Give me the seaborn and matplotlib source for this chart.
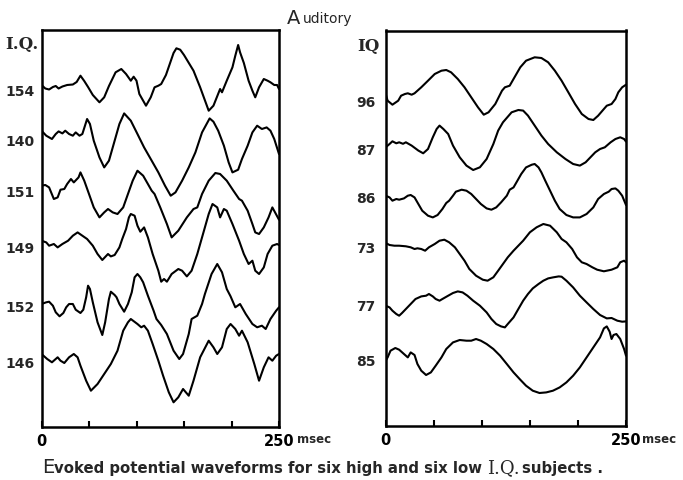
import numpy as np
import pandas as pd
import matplotlib
matplotlib.use("Agg")
import matplotlib.pyplot as plt
import matplotlib.transforms as mtransforms
import seaborn as sns

# ---------------- data (time in msec, amplitude in arbitrary units, up = positive)
iq_high = [154, 140, 151, 149, 152, 146]
iq_low = [96, 87, 86, 73, 77, 85]
time_ticks = [0, 50, 100, 150, 200, 250]
time_tick_labels = ["0", "", "", "", "", "250"]

t154 = [0, 4, 8, 12, 15, 18, 22, 27, 33, 37, 41, 45, 49, 54, 61, 66, 71, 78, 84, 89, 94, 97, 100, 103, 110, 115, 119, 123, 126, 131, 135, 139, 142, 146, 150, 160, 167, 176, 181, 188, 190, 195, 201, 204, 207, 209, 213, 218, 222, 225, 229, 234, 238, 241, 245, 248, 250]
a154 = [0, -3.5, -4.5, -2, -1, -3.5, -1.5, 0, 0.5, 3, 9.3, 4, -2, -10, -17.3, -12.3, -1, 12.7, 16, 11, 4.3, 8.3, 4.3, -9, -20.7, -12.3, -2.3, -0.7, 1, 10, 21, 32, 36.7, 35.3, 30, 14.3, -2.3, -25.7, -20.7, -4, -7.3, 4.3, 17.7, 29.3, 40, 32.7, 22, 4.3, -5.7, -12.3, -2.3, 6, 4.3, 2.7, 0, 0, -4]

t140 = [0, 5, 11, 15, 18, 22, 25, 29, 33, 36, 40, 43, 48, 51, 55, 61, 66, 71, 77, 82, 87, 94, 101, 108, 116, 123, 130, 136, 141, 148, 155, 162, 169, 177, 181, 186, 192, 197, 201, 207, 211, 217, 222, 227, 232, 237, 241, 245, 250]
a140 = [0, -5, -8.3, -3.3, -0.7, -2.7, 0, -3.3, -5, -1.7, -5, -3.3, 11.7, 6.7, -10, -26.7, -36.7, -30, -10, 6.7, 17.3, 10, -3.3, -16.7, -30, -41.7, -55, -65, -61.7, -50, -36.7, -21.7, -1.7, 12.3, 9, 0, -15, -31.7, -41.7, -39, -28.3, -15, -1.7, 5, 1.7, 3.3, 0, -8.3, -23.3]

t151 = [0, 4, 8, 13, 17, 20, 24, 27, 31, 34, 39, 41, 45, 50, 55, 61, 66, 70, 75, 80, 86, 91, 96, 101, 107, 112, 116, 119, 125, 132, 137, 144, 153, 160, 164, 169, 176, 183, 188, 195, 202, 208, 211, 217, 222, 225, 229, 234, 239, 243, 250]
a151 = [0, 0.7, -1.7, -13.3, -11.7, -4, -3.3, 1.7, 6.7, 3.3, 8.3, 13.3, 5, -8.3, -21.7, -31.7, -26.7, -23.3, -26.7, -28.3, -21.7, -8.3, 5, 15, 10, 1.7, -5, -8.3, -21.7, -38.3, -51.7, -45, -31.7, -23.3, -21.7, -8.3, 5, 12.7, 11.7, 5, -5, -13.3, -15, -25, -38.3, -46.7, -48.3, -41.7, -31.7, -21.7, -34]

t149 = [0, 5, 8, 13, 17, 22, 28, 33, 38, 43, 48, 54, 59, 64, 70, 73, 77, 82, 85, 89, 92, 94, 98, 101, 104, 108, 112, 117, 123, 126, 129, 132, 137, 144, 148, 153, 158, 164, 171, 176, 180, 185, 188, 192, 195, 201, 208, 213, 218, 222, 225, 229, 234, 238, 243, 248, 250]
a149 = [0, -1.7, -5, -3.3, -6.7, -3.3, 0, 5, 8.3, 5, 1.7, -5, -13.3, -19.3, -13.3, -15.7, -14.3, -6.7, 1.7, 11.7, 23.3, 26.7, 25, 15, 9, 13.3, 3.3, -13.3, -30, -41, -38.3, -41, -33.3, -28.3, -30, -35.7, -30, -13.3, 10, 26.7, 36.7, 33.3, 23.3, 31.7, 30, 16.7, 0, -13.3, -23.3, -20, -30, -33.3, -26.7, -13.3, -5, -3.3, -4.3]

t152 = [0, 5, 8, 12, 15, 19, 23, 26, 29, 33, 36, 41, 44, 47, 49, 51, 54, 59, 64, 67, 71, 73, 77, 79, 82, 87, 91, 95, 98, 101, 104, 107, 112, 118, 121, 126, 132, 139, 145, 149, 155, 158, 164, 169, 172, 179, 185, 190, 195, 199, 204, 209, 215, 222, 227, 232, 236, 241, 247, 250]
a152 = [0, 1.7, 2.3, -1.7, -8.3, -12.3, -9, -3.3, 0, 0, -5.7, -9, -5.7, 6.7, 18.3, 15, 1.7, -18.3, -31, -18.3, 5, 12.3, 9, 6.7, 0, -7.7, 0, 11.7, 26.7, 30, 26.7, 21.7, 8.3, -6.7, -15, -21, -30, -46.7, -55, -50, -30, -15, -11.7, 0, 10, 30, 40, 31.7, 15, 7.7, -3.3, 0, -10, -20, -23.3, -21.7, -25, -15, -6.7, -3.3]

t146 = [0, 6, 11, 17, 20, 24, 29, 34, 38, 41, 47, 52, 59, 66, 73, 80, 86, 91, 94, 101, 105, 108, 112, 117, 123, 128, 134, 139, 144, 149, 155, 160, 167, 176, 181, 185, 190, 195, 199, 204, 208, 211, 217, 224, 229, 234, 239, 243, 247, 250]
a146 = [0, -5, -8.3, -3.3, -6.7, -9, -3.3, 0, -3.3, -11.7, -26.7, -36.7, -30, -20, -10, 3.3, 23.3, 31.7, 35, 30, 26.7, 28.3, 23.3, 10, -6.7, -21.7, -38.3, -48.3, -43.3, -35, -41.7, -26.7, -3.3, 13.3, 6.7, 0, 6.7, 25, 30, 25, 18.3, 23.3, 11.7, -10, -26.7, -13.3, -3.3, -6.7, -1.7, 0]

t96 = [0, 2, 7, 13, 16, 20, 23, 27, 30, 37, 44, 51, 58, 63, 68, 75, 82, 89, 96, 102, 107, 114, 121, 124, 129, 134, 140, 146, 155, 162, 169, 176, 183, 190, 197, 204, 211, 216, 221, 227, 230, 235, 239, 242, 246, 250]
a96 = [0, -6.7, -10.7, -6.7, -1.7, 0, 0.7, -0.7, 0.7, 6.7, 13.3, 20, 23.3, 24, 21.7, 15, 6.7, -3.3, -13.3, -20.7, -18.3, -10, 3.3, 6.7, 8.3, 16.7, 26.7, 33.3, 36.7, 36, 31.7, 23.3, 13.3, 1.7, -10, -20, -25, -26, -21.7, -15, -11.7, -10, -5, 1.7, 6.7, 9.3]

t87 = [0, 4, 7, 11, 14, 18, 21, 27, 34, 39, 44, 49, 53, 56, 60, 65, 70, 77, 84, 91, 98, 105, 112, 117, 122, 131, 138, 143, 148, 155, 162, 169, 178, 187, 195, 202, 208, 213, 218, 223, 228, 234, 239, 244, 248, 250]
a87 = [0, 3.3, 6, 4, 5, 3.5, 5, 1.7, -3.3, -6, -1.7, 10, 18.3, 21.7, 18.3, 13.3, 1.7, -10, -18.3, -22.7, -20, -11.7, 3.3, 16.7, 25, 35, 37.3, 36.7, 31.7, 21.7, 11.7, 3.3, -5, -11.7, -16.7, -18.3, -15, -10, -5, -1.7, 0, 5, 8.3, 10, 8.3, 5.7]

t86 = [0, 4, 7, 11, 14, 19, 23, 26, 30, 33, 38, 44, 49, 54, 59, 63, 66, 70, 73, 79, 84, 89, 94, 99, 105, 110, 115, 120, 126, 129, 133, 136, 141, 146, 152, 155, 159, 162, 166, 171, 176, 181, 188, 195, 202, 209, 216, 221, 227, 232, 235, 239, 242, 246, 250]
a86 = [0, -1.7, -5, -3.3, -4, -2.7, 0, 0.7, -1.7, -6.7, -15, -20, -21.7, -19.3, -13.3, -7.3, -5, 0, 4, 6, 5, 1.7, -3.3, -8.3, -12.7, -14, -11.7, -6.7, 0, 6, 8.3, 13.3, 21.7, 28.3, 31, 31.7, 28.3, 23.3, 15, 5, -5, -13.3, -19.3, -21.7, -21.7, -18.3, -11.7, -3.3, 1.7, 4, 6.7, 7.3, 5, 0, -9.3]

t73 = [0, 4, 9, 14, 21, 26, 30, 33, 37, 41, 45, 51, 56, 61, 66, 72, 77, 82, 87, 94, 101, 106, 112, 117, 122, 127, 133, 138, 143, 150, 157, 164, 171, 178, 183, 188, 194, 199, 204, 209, 215, 220, 227, 230, 235, 241, 244, 248, 250]
a73 = [0, -2, -2.7, -2.7, -3.3, -4.3, -6, -5.3, -6, -7.7, -4.3, -1, 2.3, 3.3, 0.7, -4.3, -11, -17.7, -26, -32.7, -36.7, -37.7, -34.3, -27.7, -21, -14.3, -7.7, -2.7, 2.3, 10.7, 15.7, 19, 17.3, 10.7, 4, 0.7, -6, -14.3, -19.3, -21, -24.3, -26.7, -28.3, -27.7, -26.7, -24.3, -19.3, -17.7, -19.3]

t77 = [0, 4, 7, 11, 14, 17, 21, 26, 31, 37, 42, 45, 49, 52, 56, 59, 65, 70, 75, 80, 85, 91, 98, 105, 110, 115, 120, 124, 127, 133, 138, 143, 148, 153, 159, 164, 169, 174, 180, 183, 188, 195, 202, 209, 216, 223, 230, 235, 241, 246, 250]
a77 = [0, -1.7, -5, -8.3, -10, -7.3, -3.3, 1.7, 6.7, 9.3, 10, 11.7, 9.3, 6.7, 5, 6.7, 10, 12.7, 14.3, 13.3, 10, 5, 0, -6.7, -13.3, -18.3, -20.7, -21.7, -18.3, -11.7, -3.3, 5, 11.7, 17.3, 21.7, 25, 27.3, 28.3, 29.3, 29, 25, 18.3, 10, 3.3, -3.3, -9.3, -12.7, -12.3, -15, -16, -15.7]

t85 = [0, 2, 5, 10, 14, 19, 23, 26, 30, 33, 37, 42, 47, 52, 58, 63, 70, 77, 84, 89, 94, 99, 105, 112, 119, 126, 133, 140, 146, 153, 160, 167, 174, 181, 188, 195, 202, 209, 216, 223, 227, 230, 233, 235, 237, 240, 244, 248, 250]
a85 = [0, 3.3, 10, 12.7, 11, 6.7, 3.3, 8.3, 5.7, -3.3, -10, -14.3, -11.7, -5, 3.3, 11.7, 18.3, 20.7, 20, 20, 21.7, 20, 16.7, 11.7, 5, -3.3, -11.7, -19, -25, -30, -32.3, -31.7, -30, -26.7, -21.7, -15, -6.7, 3.3, 13.3, 23.3, 32.3, 34.3, 29, 21.7, 25.7, 26.7, 21.7, 11.7, 5]

high_times = [t154, t140, t151, t149, t152, t146]
high_amps = [a154, a140, a151, a149, a152, a146]
low_times = [t96, t87, t86, t73, t77, t85]
low_amps = [a96, a87, a86, a73, a77, a85]

# ---------------- layout (pixel units of the 683x481 canvas)
W, H = 683, 481
sns.set_style("white")
plt.rcParams['font.family'] = ['DejaVu Sans']

fig = plt.figure(figsize=(W / 100, H / 100), dpi=100)


def px_axes(l, t, r, b):
    return fig.add_axes([l / W, 1 - b / H, (r - l) / W, (b - t) / H])


ax_l = px_axes(41.5, 31, 279, 428)
ax_r = px_axes(385.7, 31.5, 626, 427)

# vertical layout of the stacked traces (pixel rows of each trace start)
left_offsets = [86, 131.7, 186.7, 241.7, 305, 355]
right_offsets = [95, 148.3, 196.7, 244, 306.7, 361.7]
left_label_rows = [92, 142, 193, 249, 308, 364]
right_label_rows = [103, 151, 199, 249, 307, 362]


def draw_panel(ax, times, amps, iqs, offsets, label_rows, label_x, head, head_row, ylim):
    for t, a, off in zip(times, amps, offsets):
        df = pd.DataFrame({"t": t, "y": off - np.asarray(a, dtype=float)})
        sns.lineplot(data=df, x="t", y="y", ax=ax, color="black", linewidth=1.5,
                     sort=False, estimator=None)
        ax.lines[-1].set_solid_joinstyle("round")
        ax.lines[-1].set_solid_capstyle("round")
    ax.set_xlim(0, 250)
    ax.set_ylim(*ylim)
    ax.set_xlabel("")
    ax.set_ylabel("")
    ax.set_yticks([])
    ax.set_xticks(time_ticks)
    ax.set_xticklabels(time_tick_labels, fontweight="bold", fontsize=10.5)
    ax.tick_params(axis="x", direction="in", length=4, width=1.5, pad=4,
                   bottom=True, top=False, colors="black")
    for sp in ax.spines.values():
        sp.set_visible(True)
        sp.set_linewidth(1.8)
        sp.set_color("black")
    tr = mtransforms.blended_transform_factory(ax.transAxes, ax.transData)
    for iq, row in zip(iqs, label_rows):
        ax.text(label_x, row, str(iq), transform=tr, ha="center", va="center",
                fontsize=10, fontweight="bold", clip_on=False)
    ax.text(label_x + 0.01, head_row, head, transform=tr, ha="center", va="center",
            fontsize=12, fontweight="bold", family="DejaVu Serif", clip_on=False)


draw_panel(ax_l, high_times, high_amps, iq_high, left_offsets, left_label_rows,
           (20 - 41.5) / 237.5, "I.Q.", 45, (428, 31))
draw_panel(ax_r, low_times, low_amps, iq_low, right_offsets, right_label_rows,
           (366 - 385.7) / 240.3, "IQ", 47, (427, 31.5))

# "msec" unit after the 250 tick label
fig.text(297 / W, 1 - 443.5 / H, "msec", fontsize=8.5, fontweight="bold",
         ha="left", va="baseline")
fig.text(642 / W, 1 - 443.5 / H, "msec", fontsize=8.5, fontweight="bold",
         ha="left", va="baseline")

renderer = fig.canvas.get_renderer()


def fit_text(x0, x1, row, s, size, **kw):
    t = fig.text(x0 / W, 1 - row / H, s, fontsize=size, ha="left", va="baseline", **kw)
    w = t.get_window_extent(renderer).width
    if w > 0:
        t.set_fontsize(size * (x1 - x0) / w)
    return t


# title
fig.text(287 / W, 1 - 23.5 / H, "A", fontsize=14, ha="left", va="baseline")
fig.text(303 / W, 1 - 23.5 / H, "uditory", fontsize=10, ha="left", va="baseline")

# caption
fig.text(42 / W, 1 - 473 / H, "E", fontsize=14, ha="left", va="baseline")
mid = fit_text(54, 482, 473, "voked potential waveforms for six high and six low", 10,
               fontweight="bold")
fig.text(487 / W, 1 - 473 / H, "I.Q.", fontsize=13, ha="left", va="baseline",
         family="DejaVu Serif")
fig.text(522 / W, 1 - 473 / H, "subjects .", fontsize=mid.get_fontsize(),
         fontweight="bold", ha="left", va="baseline")

fig.savefig("out.png", dpi=100)
